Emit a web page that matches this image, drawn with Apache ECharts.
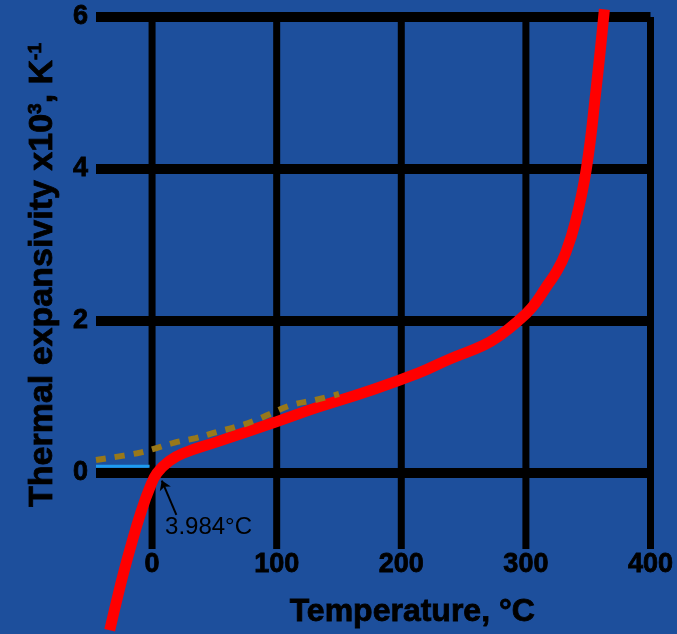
<!DOCTYPE html>
<html>
<head>
<meta charset="utf-8">
<script src="https://cdn.jsdelivr.net/npm/echarts@6/dist/echarts.min.js"></script>
<style>
html,body{margin:0;padding:0;background:#1d4f9c;}
#chart{width:677px;height:634px;}
</style>
</head>
<body>
<div id="chart"></div>
<script>
// Axis ranges and tick labels
const xRange = [-45, 400];
const yRange = [-1, 6];
const xTicks = [0, 100, 200, 300, 400];
const yTicks = [0, 2, 4, 6];

// Water (red curve): temperature °C, thermal expansivity x10^3 K^-1
const waterT = [-34, -29, -23, -16, -9, -2, 4, 14, 25, 52, 99, 132, 172, 213, 239, 266, 280, 293, 305, 316, 325, 332, 340, 348.5, 356, 363];
const waterA = [-2.07, -1.72, -1.32, -0.9, -0.52, -0.2, 0, 0.16, 0.26, 0.41, 0.67, 0.86, 1.07, 1.31, 1.50, 1.68, 1.82, 1.99, 2.18, 2.44, 2.66, 2.9, 3.32, 4.0, 5.0, 6.1];

// Gold dotted curve
const goldT = [-45, -12, 0, 18, 35, 52, 68, 84, 99, 113, 131, 150];
const goldA = [0.17, 0.26, 0.31, 0.40, 0.46, 0.54, 0.61, 0.70, 0.81, 0.90, 0.96, 1.04];

// Ice (blue short line)
const iceT = [-45, -2];
const iceA = [0.09, 0.09];

// Annotation of density maximum
const annotText = '3.984°C';
const annotTextAt = [10.4, -0.72];
const arrowFrom = [19.5, -0.55];
const arrowTo = [7.8, -0.1];

const zip = (a, b) => a.map((v, i) => [v, b[i]]);
const FONT = "'Liberation Sans', Arial, sans-serif";
const heavy = { textBorderColor: '#000', textBorderWidth: 0.8 };

const gridSeries = [];
xTicks.forEach(x => gridSeries.push({
  type: 'line', data: [[x, yRange[0]], [x, yRange[1]]], symbol: 'none', silent: true, z: 1,
  lineStyle: { color: '#000', width: 7 }
}));
yTicks.forEach(y => gridSeries.push({
  type: 'line', data: [[xRange[0], y], [xRange[1], y]], symbol: 'none', silent: true, z: 1,
  lineStyle: { color: '#000', width: 10 }
}));

const chart = echarts.init(document.getElementById('chart'), null, { renderer: 'canvas' });
chart.setOption({
  animation: false,
  backgroundColor: '#1d4f9c',
  grid: { left: 96, right: 26.5, top: 17, bottom: 85 },
  xAxis: {
    type: 'value', min: xRange[0], max: xRange[1],
    axisLine: { show: false, onZero: false }, axisTick: { show: false }, splitLine: { show: false },
    axisLabel: Object.assign({ customValues: xTicks, color: '#000', fontFamily: FONT, fontWeight: 'bold', fontSize: 27, margin: 2 }, heavy),
    name: 'Temperature, °C', nameLocation: 'middle', nameGap: 47,
    nameTextStyle: Object.assign({ color: '#000', fontFamily: FONT, fontWeight: 'bold', fontSize: 32, padding: [0, 0, 0, 78] }, heavy)
  },
  yAxis: {
    type: 'value', min: yRange[0], max: yRange[1],
    axisLine: { show: false, onZero: false }, axisTick: { show: false }, splitLine: { show: false },
    axisLabel: Object.assign({ customValues: yTicks, color: '#000', fontFamily: FONT, fontWeight: 'bold', fontSize: 27, margin: 8 }, heavy),
    name: 'Thermal expansivity x10{sup|3}, K{sup|-1}', nameLocation: 'middle', nameGap: 36, nameRotate: 90,
    nameTextStyle: Object.assign({
      color: '#000', fontFamily: FONT, fontWeight: 'bold', fontSize: 34, padding: [0, 0, 0, 16],
      rich: { sup: Object.assign({ fontFamily: FONT, fontWeight: 'bold', fontSize: 19, verticalAlign: 'top', padding: [0, 0, 15, 0], color: '#000' }, heavy) }
    }, heavy)
  },
  series: gridSeries.concat([
    {
      name: 'ice', type: 'line', data: zip(iceT, iceA), symbol: 'none', z: 3, silent: true,
      lineStyle: { color: '#1e9bf0', width: 3 }
    },
    {
      name: 'water', type: 'line', data: zip(waterT, waterA), symbol: 'none', smooth: 0.45, clip: false, z: 4, silent: true,
      lineStyle: { color: '#ff0000', width: 11 },
      markLine: {
        silent: true, symbol: ['none', 'arrow'], symbolSize: 9,
        lineStyle: { color: '#000', width: 2, type: 'solid' }, label: { show: false },
        data: [[{ coord: arrowFrom }, { coord: arrowTo }]]
      },
      markPoint: {
        silent: true, symbol: 'circle', symbolSize: 0,
        data: [{ coord: annotTextAt, label: { show: true, position: 'right', distance: 0, formatter: annotText, color: '#000', fontFamily: FONT, fontSize: 24 } }]
      }
    },
    {
      name: 'gold', type: 'line', data: zip(goldT, goldA), symbol: 'none', smooth: 0.4, z: 5, silent: true,
      lineStyle: { color: '#98781a', width: 6, type: [10, 9] }
    }
  ])
});
</script>
</body>
</html>
